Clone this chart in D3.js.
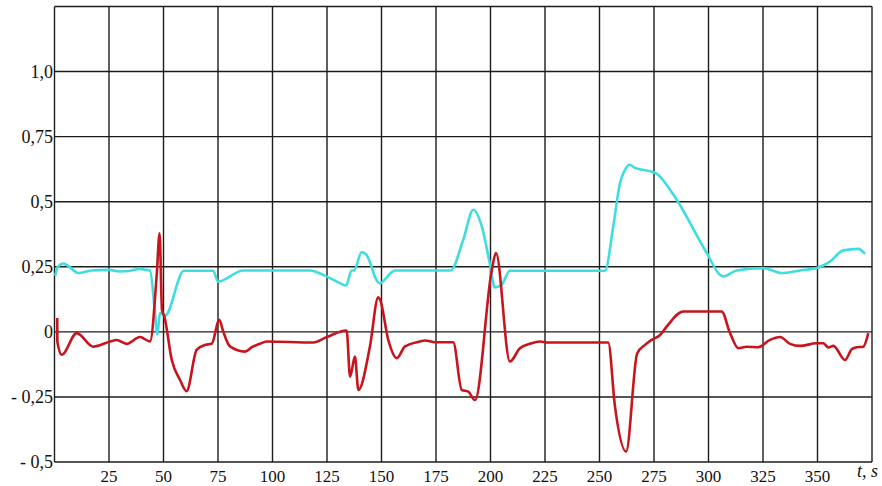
<!DOCTYPE html>
<html>
<head>
<meta charset="utf-8">
<script src="https://cdn.jsdelivr.net/npm/d3@7"></script>
<style>
  html, body { margin: 0; padding: 0; background: #fff; }
  svg { display: block; }
</style>
</head>
<body>
<svg id="chart" width="882" height="486"></svg>
<script>
// ---- data ----
const xTicks = [25, 50, 75, 100, 125, 150, 175, 200, 225, 250, 275, 300, 325, 350];
const yTicks = [-0.5, -0.25, 0, 0.25, 0.5, 0.75, 1.0];
const yTickLabels = ["- 0,5", "- 0,25", "0", "0,25", "0,5", "0,75", "1,0"];
const xAxisTitle = "t, s";

// cyan series: time (s) and value
const cyanT = [0.3, 1.5, 4, 6, 11, 17, 25, 30, 35, 39, 42, 43.8, 46.1, 47.2, 48.4, 50.7, 59.4, 72.8, 75.0, 86.6, 117.2, 123.3, 131.0, 133.7, 136.3, 137.4, 140.9, 142.9, 149.0, 156.2, 181.7, 187.5, 192.1, 196.0, 199.8, 202.0, 205.1, 208.9, 252.5, 256.3, 259.4, 261.7, 263.7, 266.3, 273.2, 276.2, 283.9, 299.2, 305.3, 306.8, 312.9, 325.1, 333.6, 342.0, 349.6, 355.7, 361.8, 368.7, 371.8];
const cyanV = [0.215, 0.25, 0.262, 0.255, 0.226, 0.236, 0.238, 0.232, 0.235, 0.242, 0.238, 0.236, 0.073, -0.01, 0.073, 0.062, 0.235, 0.235, 0.193, 0.236, 0.236, 0.219, 0.187, 0.178, 0.236, 0.236, 0.306, 0.298, 0.187, 0.236, 0.236, 0.354, 0.469, 0.405, 0.258, 0.171, 0.181, 0.235, 0.235, 0.404, 0.572, 0.622, 0.642, 0.63, 0.617, 0.608, 0.527, 0.303, 0.219, 0.213, 0.236, 0.245, 0.226, 0.236, 0.245, 0.27, 0.313, 0.319, 0.30];

// red series: time (s) and value
const redT = [1.25, 1.3, 3.3, 10.2, 17.8, 25.5, 28.5, 33.1, 39.2, 43.8, 46.9, 48.2, 49.3, 50.4, 53.8, 57.6, 60.6, 65.2, 69.0, 72.1, 75.6, 77.4, 80.5, 87.4, 90.5, 94.3, 97.3, 118.7, 124.9, 134.0, 135.6, 137.8, 139.4, 144.7, 148.5, 149.3, 153.1, 157.0, 160.8, 167.7, 170.0, 174.5, 182.9, 186.8, 189.8, 192.9, 200.6, 202.5, 208.9, 213.5, 218.1, 222.7, 225.8, 254.0, 257.1, 262.2, 267.3, 270.9, 273.9, 277.8, 280.8, 288.4, 306.0, 309.9, 313.7, 317.5, 322.8, 328.2, 332.8, 337.4, 342.0, 349.6, 352.7, 355.0, 357.3, 362.6, 365.7, 368.0, 371.0, 373.3];
const redV = [0.053, -0.037, -0.088, -0.005, -0.057, -0.037, -0.031, -0.046, -0.02, -0.037, 0.22, 0.379, 0.085, 0.059, -0.108, -0.185, -0.228, -0.069, -0.05, -0.046, 0.046, 0.001, -0.056, -0.076, -0.059, -0.046, -0.037, -0.041, -0.02, 0.005, -0.172, -0.095, -0.223, -0.056, 0.133, 0.125, -0.031, -0.101, -0.056, -0.037, -0.033, -0.04, -0.04, -0.223, -0.23, -0.262, 0.238, 0.303, -0.114, -0.063, -0.046, -0.037, -0.041, -0.041, -0.287, -0.46, -0.082, -0.05, -0.031, -0.012, 0.02, 0.078, 0.078, -0.005, -0.063, -0.057, -0.059, -0.031, -0.02, -0.046, -0.054, -0.044, -0.044, -0.06, -0.054, -0.108, -0.067, -0.059, -0.057, -0.005];

// ---- drawing ----
const FONT = "'Liberation Serif', 'DejaVu Serif', serif";
const svg = d3.select("#chart");
const x = d3.scaleLinear().domain([0, 375]).range([54.5, 872]);
const y = d3.scaleLinear().domain([-0.5, 1.25]).range([462, 6.5]);

const grid = svg.append("g").attr("stroke", "#1c1c1c").attr("stroke-width", 1.4);
const xGrid = [0].concat(xTicks, [375]);
const yGrid = yTicks.concat([1.25]);
grid.selectAll("line.v").data(xGrid).join("line").attr("class", "v")
  .attr("x1", d => x(d)).attr("x2", d => x(d))
  .attr("y1", y(1.25)).attr("y2", y(-0.5));
grid.selectAll("line.h").data(yGrid).join("line").attr("class", "h")
  .attr("x1", x(0)).attr("x2", x(375))
  .attr("y1", d => y(d)).attr("y2", d => y(d));

const line = d3.line().x(d => x(d[0])).y(d => y(d[1])).curve(d3.curveMonotoneX);
const cyan = cyanT.map((t, i) => [t, cyanV[i]]);
const red = redT.map((t, i) => [t, redV[i]]);

svg.append("path").datum(cyan).attr("d", line)
  .attr("fill", "none").attr("stroke", "#3fdddf").attr("stroke-width", 2.6)
  .attr("stroke-linejoin", "round");
svg.append("path").datum(red).attr("d", line)
  .attr("fill", "none").attr("stroke", "#c8141c").attr("stroke-width", 2.6)
  .attr("stroke-linejoin", "round");

// y labels
svg.append("g").selectAll("text").data(yTicks).join("text")
  .attr("x", 53).attr("y", d => y(d)).attr("dy", "0.35em")
  .attr("text-anchor", "end").attr("font-size", 18)
  .attr("font-family", FONT).attr("fill", "#111")
  .text((d, i) => yTickLabels[i]);
// x labels
svg.append("g").selectAll("text").data(xTicks).join("text")
  .attr("x", d => x(d)).attr("y", 482)
  .attr("text-anchor", "middle").attr("font-size", 17)
  .attr("font-family", FONT).attr("fill", "#111")
  .text(d => d);
svg.append("text").attr("x", 857).attr("y", 477)
  .attr("font-size", 18).attr("font-style", "italic")
  .attr("font-family", FONT).attr("fill", "#111")
  .text(xAxisTitle);
</script>
</body>
</html>
